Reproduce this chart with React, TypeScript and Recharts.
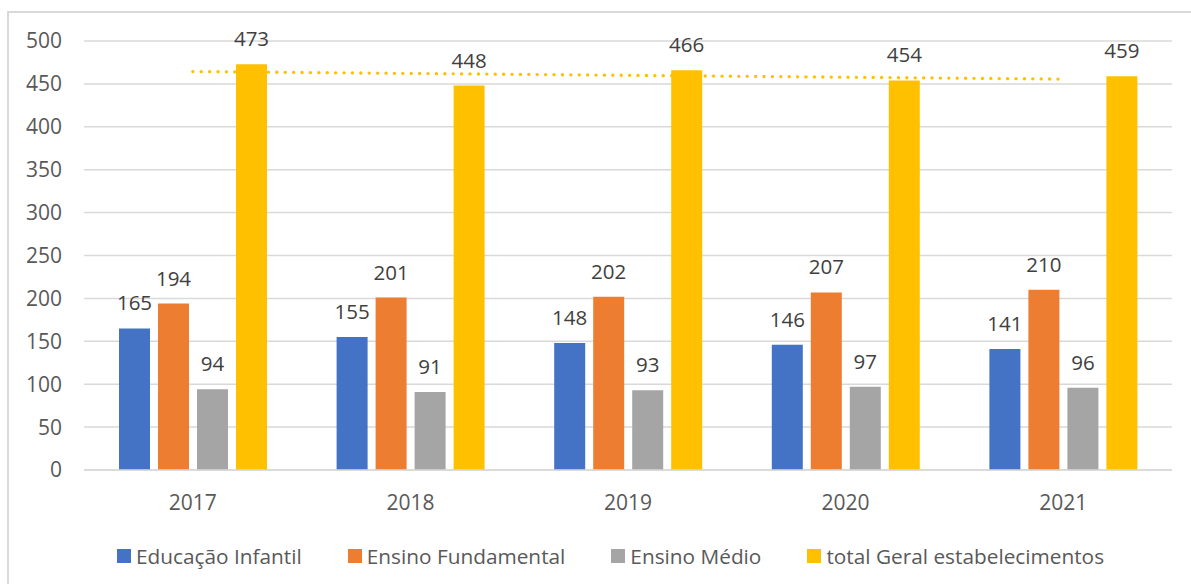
import React from "react";
import { ComposedChart, Bar, Line, XAxis, YAxis, CartesianGrid, LabelList, Legend } from "recharts";

const years = ["2017", "2018", "2019", "2020", "2021"];
const educacaoInfantil = [165, 155, 148, 146, 141];
const ensinoFundamental = [194, 201, 202, 207, 210];
const ensinoMedio = [94, 91, 93, 97, 96];
const totalGeral = [473, 448, 466, 454, 459];
const totalTrend = [464.4, 462.2, 460.0, 457.8, 455.6];
const yTicks = [0, 50, 100, 150, 200, 250, 300, 350, 400, 450, 500];

const seriesNames = ["Educação Infantil", "Ensino Fundamental", "Ensino Médio", "total Geral estabelecimentos"];
const seriesKeys = ["infantil", "fundamental", "medio", "total"];
const seriesColors = ["#4472C4", "#ED7D31", "#A5A5A5", "#FFC000"];

const data = years.map((y, i) => ({
  year: y,
  infantil: educacaoInfantil[i],
  fundamental: ensinoFundamental[i],
  medio: ensinoMedio[i],
  total: totalGeral[i],
  trend: totalTrend[i],
}));

const FONT = "'Open Sans', sans-serif";

const LegendContent = () => (
  <div
    style={{
      height: 40,
      display: "flex",
      alignItems: "center",
      paddingLeft: 117,
      fontFamily: FONT,
      fontSize: 20.8,
      color: "#595959",
      boxSizing: "border-box",
      whiteSpace: "nowrap",
    }}
  >
    {seriesNames.map((n, i) => (
      <div key={n} style={{ display: "flex", alignItems: "center", marginRight: 46 }}>
        <span style={{ display: "inline-block", width: 14, height: 14, background: seriesColors[i], marginRight: 5 }} />
        <span>{n}</span>
      </div>
    ))}
  </div>
);

export default function App() {
  return (
    <div style={{ position: "absolute", left: 0, top: 0, width: 1191, height: 584, overflow: "hidden", background: "#fff" }}>
      <div
        style={{
          position: "absolute",
          left: 7,
          top: 11,
          width: 1300,
          height: 700,
          border: "2px solid #D9D9D9",
          boxSizing: "border-box",
        }}
      />
      <div style={{ position: "absolute", left: 0, top: 0 }}>
        <ComposedChart
          width={1191}
          height={584}
          data={data}
          margin={{ top: 41, right: 19, bottom: 8, left: 0 }}
          barSize={31}
          barGap={8}
        >
          <CartesianGrid vertical={false} stroke="#D9D9D9" strokeWidth={1.5} />
          <XAxis
            dataKey="year"
            height={66}
            axisLine={{ stroke: "#D9D9D9", strokeWidth: 1.5 }}
            tickLine={false}
            tickSize={0}
            tickMargin={25}
            tick={{ fill: "#595959", fontSize: 21, fontFamily: FONT }}
          />
          <YAxis
            width={84}
            domain={[0, 500]}
            ticks={yTicks}
            axisLine={false}
            tickLine={false}
            tickSize={0}
            tickMargin={22}
            tick={{ fill: "#595959", fontSize: 21, fontFamily: FONT }}
            interval={0}
          />
          <Legend verticalAlign="bottom" height={40} content={<LegendContent />} />
          <Line
            dataKey="trend"
            type="linear"
            stroke="#FFC000"
            strokeWidth={3.3}
            strokeDasharray="0.1 8.3"
            strokeLinecap="round"
            dot={false}
            activeDot={false}
            legendType="none"
            isAnimationActive={false}
          />
          {seriesKeys.map((k, i) => (
            <Bar key={k} dataKey={k} name={seriesNames[i]} fill={seriesColors[i]} isAnimationActive={false}>
              <LabelList
                dataKey={k}
                position="top"
                offset={18}
                fill="#404040"
                fontSize={20.5}
                fontFamily={FONT}
              />
            </Bar>
          ))}
        </ComposedChart>
      </div>
    </div>
  );
}
